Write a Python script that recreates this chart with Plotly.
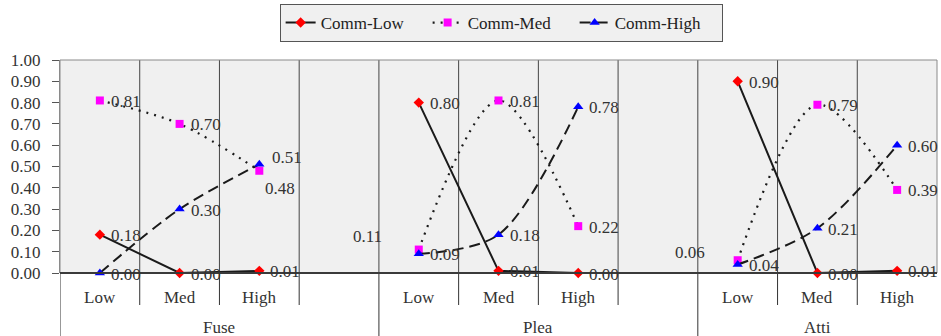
import plotly.graph_objects as go

# Communication level shares for each group / difficulty level
groups = ["Fuse", "Plea", "Atti"]
levels = ["Low", "Med", "High"]
comm_low = [0.18, 0.00, 0.01, 0.80, 0.01, 0.00, 0.90, 0.00, 0.01]
comm_med = [0.81, 0.70, 0.48, 0.11, 0.81, 0.22, 0.06, 0.79, 0.39]
comm_high = [0.00, 0.30, 0.51, 0.09, 0.18, 0.78, 0.04, 0.21, 0.60]
y_ticks = [0.0, 0.1, 0.2, 0.3, 0.4, 0.5, 0.6, 0.7, 0.8, 0.9, 1.0]

# each group occupies its levels plus one empty slot (except the last group)
slots_per_group = len(levels) + 1
n_slots = slots_per_group * len(groups) - 1

def slot_x(g, i):
    return g * slots_per_group + i

def series_xy(values):
    xs, ys = [], []
    for g in range(len(groups)):
        for i in range(len(levels)):
            xs.append(slot_x(g, i))
            ys.append(values[g * len(levels) + i])
        if g < len(groups) - 1:
            xs.append(slot_x(g, len(levels)))
            ys.append(None)
    return xs, ys

FONT = "Liberation Serif"
TXT = "#333333"
FS = 17

series = [
    ("Comm-Low", comm_low, dict(color="#1a1a1a", width=2, dash="solid", shape="linear"),
     dict(symbol="diamond", size=8, color="#ff0000")),
    ("Comm-Med", comm_med, dict(color="#1a1a1a", width=2.2, dash="2px,6px", shape="spline", smoothing=0.9),
     dict(symbol="square", size=8, color="#ff00ff")),
    ("Comm-High", comm_high, dict(color="#1a1a1a", width=2, dash="11px,6px", shape="spline", smoothing=0.9),
     dict(symbol="triangle-up", size=9, color="#0000ff")),
]

fig = go.Figure()
for name, vals, line, marker in series:
    xs, ys = series_xy(vals)
    fig.add_trace(go.Scatter(
        x=xs, y=ys, name=name, mode="lines+markers", connectgaps=False,
        line=line, marker=dict(line=dict(width=0), **marker), cliponaxis=False,
    ))

# data labels: right of each marker, with a few nudged to avoid overlap
nudges = {
    ("Comm-Med", 3): dict(xanchor="right", xshift=-35, yshift=13),
    ("Comm-Med", 6): dict(xanchor="right", xshift=-31, yshift=8),
    ("Comm-Med", 2): dict(xanchor="left", xshift=4, yshift=-18),
    ("Comm-High", 2): dict(xanchor="left", xshift=11, yshift=7),
}
annotations = []
for name, vals, _, _ in series:
    for k, v in enumerate(vals):
        g, i = divmod(k, len(levels))
        opts = dict(xanchor="left", xshift=9, yshift=-1)
        opts.update(nudges.get((name, k), {}))
        annotations.append(dict(
            x=slot_x(g, i), y=v, xref="x", yref="y", text=f"{v:.2f}",
            showarrow=False, yanchor="middle",
            font=dict(family=FONT, size=FS, color=TXT), **opts,
        ))

# two-level category axis labels
for g, grp in enumerate(groups):
    for i, lvl in enumerate(levels):
        annotations.append(dict(
            x=slot_x(g, i), y=0, xref="x", yref="paper", text=lvl,
            showarrow=False, yanchor="middle", yshift=-24,
            font=dict(family=FONT, size=FS, color=TXT),
        ))
    first = slot_x(g, 0) - 0.5
    last = min(slot_x(g, len(levels)), n_slots - 1) + 0.5
    annotations.append(dict(
        x=(first + last) / 2, y=0, xref="x", yref="paper", text=grp,
        showarrow=False, yanchor="middle", yshift=-54,
        font=dict(family=FONT, size=FS, color=TXT),
    ))

plot_h = 336 - 60 - 63
shapes = []
group_edges = [slot_x(g, 0) - 0.5 for g in range(len(groups))]
for b in range(n_slots - 1):
    xb = b + 0.5
    shapes.append(dict(type="line", xref="x", yref="paper", x0=xb, x1=xb, y0=0, y1=1,
                       line=dict(color="#454545", width=1), layer="below"))
for b in range(n_slots):
    xb = b - 0.5
    depth = 63 if xb in group_edges else 32
    shapes.append(dict(type="line", xref="x", yref="paper", x0=xb, x1=xb, y0=0,
                       y1=-depth / plot_h, line=dict(color="#333333", width=1)))
# plot frame and category axis line
shapes.append(dict(type="rect", xref="paper", yref="paper", x0=0, x1=1, y0=0, y1=1,
                   line=dict(color="#8a8a8a", width=1), layer="below"))
shapes.append(dict(type="line", xref="paper", yref="paper", x0=0, x1=1, y0=0, y1=0,
                   line=dict(color="#3a3a3a", width=2)))

fig.update_layout(
    width=941, height=336,
    margin=dict(l=60, r=4, t=60, b=63, autoexpand=False),
    paper_bgcolor="white", plot_bgcolor="#f0f0f0",
    font=dict(family=FONT, size=FS, color=TXT),
    showlegend=True,
    legend=dict(
        orientation="h", x=0.503, xanchor="center", y=(plot_h + 56) / plot_h,
        yanchor="top",
        bgcolor="#f0f0f0", bordercolor="#555555", borderwidth=1,
        font=dict(family=FONT, size=17, color="#222222"),
        entrywidth=102, entrywidthmode="pixels",
        itemwidth=30, tracegroupgap=0,
    ),
    xaxis=dict(range=[-0.5, n_slots - 0.5], showgrid=False, zeroline=False,
               showticklabels=False, showline=False, fixedrange=True),
    yaxis=dict(range=[0, 1], tickvals=y_ticks, tickformat=".2f", showgrid=False,
               zeroline=False, showline=True, linecolor="#8a8a8a", linewidth=1,
               ticks="outside", ticklen=7, tickcolor="#555555",
               ticklabelstandoff=8, tickfont=dict(family=FONT, size=FS, color=TXT)),
    annotations=annotations, shapes=shapes,
)

fig.write_html("out.html")
